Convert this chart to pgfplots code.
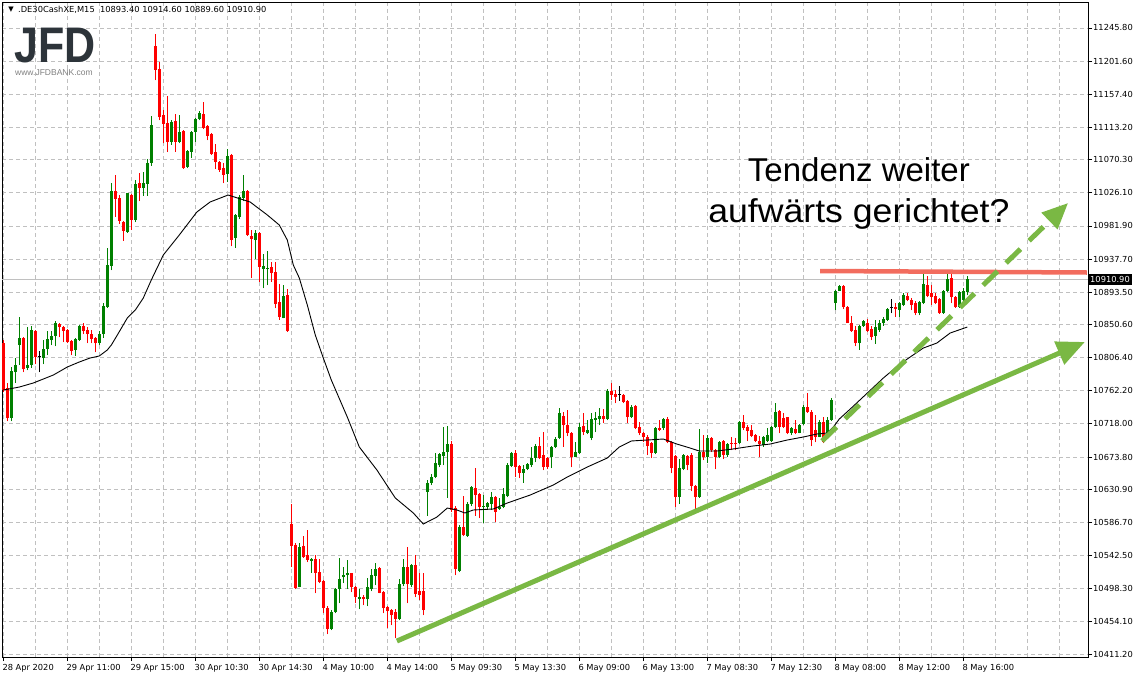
\documentclass[border=0pt]{standalone}
\usepackage{fontspec}
\setmainfont{Liberation Sans}
\newfontfamily\tah{DejaVu Sans}
\usepackage{graphicx}
\usepackage{pgfplots}
\pgfplotsset{compat=1.18}
\usepackage{pgfplotstable}
\usetikzlibrary{arrows.meta}
\definecolor{cgreen}{RGB}{0,128,0}
\definecolor{cred}{RGB}{255,0,0}
\definecolor{agreen}{RGB}{122,184,68}
\definecolor{ared}{RGB}{242,108,94}
\definecolor{gridc}{RGB}{192,192,192}
\definecolor{logoc}{RGB}{45,52,58}

\pgfplotstableread{
i O H L C
0 10825.8 10829.8 10760.4 10763.1
1 10765.8 10772.5 10721.8 10725.8
2 10725.8 10793.8 10721.8 10788.5
3 10787.1 10805.8 10772.5 10796.5
4 10823.1 10860.5 10796.5 10832.5
5 10832.5 10833.8 10787.1 10791.1
6 10792.5 10847.1 10789.8 10796.5
7 10796.5 10848.5 10792.5 10843.1
8 10841.8 10843.1 10797.8 10807.2
9 10807.2 10815.1 10787.1 10807.2
10 10805.8 10829.8 10797.8 10817.8
11 10817.8 10841.8 10809.8 10831.1
12 10829.8 10841.8 10823.1 10835.1
13 10835.1 10855.1 10821.8 10852.5
14 10851.1 10852.5 10833.8 10847.1
15 10847.1 10848.5 10827.1 10841.8
16 10843.1 10844.5 10825.8 10827.1
17 10828.5 10829.8 10809.8 10815.1
18 10816.5 10832.5 10808.5 10831.1
19 10829.8 10849.8 10828.5 10848.5
20 10848.5 10852.5 10837.8 10841.8
21 10843.1 10847.1 10825.8 10837.8
22 10837.8 10843.1 10825.8 10831.1
23 10832.5 10833.8 10813.8 10825.8
24 10825.8 10841.8 10823.1 10837.8
25 10837.8 10879.1 10832.5 10875.1
26 10873.8 10952.5 10872.5 10929.8
27 10928.5 11039.1 10923.1 11028.5
28 11028.5 11049.8 10993.8 11017.8
29 11019.1 11023.1 10984.5 10988.5
30 10987.1 10988.5 10961.8 10975.1
31 10973.8 11025.8 10972.5 11025.8
32 11023.1 11024.5 10976.5 10989.8
33 10989.8 11043.1 10987.1 11037.8
34 11039.1 11052.5 11015.1 11032.5
35 11032.5 11053.8 11021.8 11039.1
36 11037.8 11071.1 11021.8 11065.8
37 11065.8 11128.5 11061.8 11116.5
38 11221.8 11237.8 11176.4 11189.8
39 11191.1 11200.5 11123.1 11127.1
40 11129.8 11136.5 11092.4 11117.8
41 11119.1 11155.1 11080.5 11093.8
42 11093.8 11123.1 11089.8 11120.5
43 11121.8 11131.1 11080.5 11093.8
44 11093.8 11129.8 11092.4 11107.1
45 11108.5 11109.8 11057.8 11059.1
46 11060.5 11083.1 11059.1 11081.8
47 11080.5 11108.5 11072.4 11107.1
48 11107.1 11125.8 11093.8 11124.5
49 11124.5 11135.1 11123.1 11132.5
50 11131.1 11147.1 11111.1 11112.5
51 11115.1 11116.5 11096.4 11101.8
52 11104.5 11105.8 11076.5 11077.8
53 11080.5 11091.1 11057.8 11067.1
54 11067.1 11068.5 11053.8 11056.5
55 11059.1 11065.8 11039.1 11049.8
56 11051.1 11084.5 11040.5 11075.1
57 11076.5 11077.8 10955.1 10963.1
58 10965.8 10997.8 10952.5 10996.5
59 10993.8 11023.1 10991.1 11020.5
60 11019.1 11049.8 11015.1 11028.5
61 11028.5 11029.8 10968.5 10969.8
62 10968.5 10976.5 10912.5 10964.5
63 10963.1 10976.5 10937.8 10972.5
64 10972.5 10973.8 10907.2 10927.2
65 10924.5 10944.5 10899.1 10928.5
66 10924.5 10948.5 10903.1 10925.8
67 10927.2 10933.8 10907.2 10919.1
68 10920.5 10933.8 10872.4 10877.8
69 10880.5 10904.5 10856.5 10860.5
70 10859.1 10903.1 10859.1 10888.5
71 10889.8 10897.8 10840.5 10841.8
72 10584.5 10611.2 10527.2 10555.2
73 10556.5 10559.2 10497.8 10499.2
74 10500.5 10559.2 10500.5 10553.8
75 10555.2 10568.5 10539.2 10540.5
76 10543.2 10576.5 10533.8 10536.5
77 10535.2 10539.2 10519.2 10537.8
78 10537.8 10543.2 10492.5 10519.2
79 10520.5 10537.8 10505.8 10507.2
80 10508.5 10509.8 10465.8 10472.5
81 10472.5 10475.2 10437.8 10444.5
82 10444.5 10469.8 10443.2 10467.2
83 10467.2 10499.2 10465.8 10497.8
84 10497.8 10539.2 10479.2 10511.2
85 10513.8 10527.2 10505.8 10516.5
86 10516.5 10536.5 10497.8 10519.2
87 10519.2 10519.2 10493.8 10500.5
88 10500.5 10501.8 10479.2 10487.2
89 10484.5 10497.8 10471.2 10487.2
90 10487.2 10489.8 10476.5 10484.5
91 10484.5 10512.5 10475.2 10500.5
92 10497.8 10524.5 10495.2 10516.5
93 10515.2 10532.5 10503.2 10524.5
94 10525.8 10527.2 10492.5 10492.5
95 10493.8 10495.2 10465.8 10472.5
96 10473.8 10475.2 10445.8 10468.5
97 10469.8 10471.2 10449.8 10463.2
98 10467.2 10471.2 10432.5 10457.8
99 10457.8 10511.2 10456.5 10504.5
100 10504.5 10537.8 10501.8 10527.2
101 10527.2 10553.8 10479.2 10504.5
102 10503.2 10531.2 10500.5 10529.8
103 10529.8 10543.2 10487.2 10491.2
104 10495.2 10519.2 10483.2 10489.8
105 10495.2 10519.2 10463.2 10469.8
106 10627.2 10643.2 10595.2 10639.2
107 10639.2 10651.2 10636.5 10647.2
108 10647.2 10679.1 10645.8 10665.8
109 10663.1 10679.1 10660.5 10677.8
110 10675.2 10713.8 10663.1 10680.5
111 10680.5 10715.1 10619.2 10691.1
112 10691.1 10695.1 10600.5 10603.2
113 10605.8 10608.5 10516.5 10524.5
114 10521.8 10583.1 10520.5 10580.5
115 10580.5 10621.8 10568.5 10569.8
116 10568.5 10613.8 10567.2 10611.2
117 10611.2 10635.2 10608.5 10633.8
118 10632.5 10659.1 10595.2 10623.1
119 10624.5 10625.8 10592.5 10607.2
120 10607.2 10623.1 10585.8 10608.5
121 10607.2 10613.8 10603.2 10612.5
122 10611.2 10627.2 10603.2 10620.5
123 10620.5 10621.8 10587.2 10600.5
124 10604.5 10619.2 10603.2 10607.2
125 10607.2 10632.5 10605.8 10624.5
126 10621.8 10665.8 10620.5 10663.1
127 10661.8 10680.5 10660.5 10679.1
128 10679.1 10683.1 10647.2 10660.5
129 10661.8 10663.1 10645.8 10652.5
130 10652.5 10663.1 10639.2 10657.8
131 10657.8 10665.8 10656.5 10664.5
132 10663.1 10687.1 10660.5 10672.5
133 10672.5 10691.1 10667.1 10688.5
134 10688.5 10700.5 10671.1 10672.5
135 10676.5 10707.1 10656.5 10660.5
136 10672.5 10673.8 10657.8 10660.5
137 10673.8 10688.5 10659.1 10687.2
138 10687.2 10700.5 10685.8 10697.8
139 10699.1 10739.1 10697.8 10732.5
140 10728.5 10733.8 10687.2 10716.5
141 10716.5 10736.5 10701.8 10705.8
142 10705.8 10707.1 10660.5 10673.8
143 10673.8 10693.8 10673.8 10680.5
144 10679.1 10719.1 10677.8 10713.8
145 10715.1 10732.5 10703.1 10707.1
146 10705.8 10723.1 10704.5 10709.8
147 10699.1 10732.5 10696.5 10724.5
148 10723.1 10733.8 10707.1 10725.8
149 10724.5 10739.1 10716.5 10728.5
150 10728.5 10737.8 10719.1 10724.5
151 10724.5 10764.5 10723.1 10761.8
152 10761.8 10772.5 10749.8 10756.5
153 10757.8 10763.1 10745.8 10753.8
154 10756.5 10768.5 10748.5 10756.5
155 10756.5 10757.8 10745.8 10747.1
156 10748.5 10749.8 10719.1 10727.1
157 10727.1 10743.2 10725.8 10740.5
158 10741.8 10743.2 10711.1 10712.5
159 10713.8 10720.5 10703.1 10705.8
160 10705.8 10707.1 10693.8 10700.5
161 10700.5 10703.1 10676.5 10688.5
162 10692.4 10693.8 10672.5 10679.1
163 10679.1 10713.8 10677.8 10712.5
164 10712.5 10723.1 10708.5 10709.8
165 10712.5 10725.8 10709.8 10724.5
166 10724.5 10727.1 10692.4 10693.8
167 10693.8 10695.1 10652.5 10659.1
168 10675.1 10676.5 10607.2 10620.5
169 10620.5 10671.1 10611.8 10659.1
170 10657.8 10677.8 10656.5 10676.5
171 10675.1 10676.5 10656.5 10663.1
172 10676.5 10679.1 10628.5 10635.2
173 10635.2 10636.5 10604.5 10620.5
174 10620.5 10711.1 10619.2 10680.5
175 10680.5 10703.1 10669.8 10673.8
176 10673.8 10703.1 10665.8 10699.1
177 10699.1 10700.5 10680.5 10683.1
178 10683.1 10684.5 10657.8 10673.8
179 10673.8 10695.1 10672.5 10693.8
180 10695.1 10696.5 10671.1 10676.5
181 10676.5 10692.4 10673.8 10691.1
182 10692.4 10700.5 10683.1 10691.1
183 10692.4 10699.1 10683.1 10691.1
184 10692.4 10721.8 10691.1 10720.5
185 10720.5 10729.8 10709.8 10712.5
186 10713.8 10716.5 10695.1 10708.5
187 10709.8 10716.5 10700.5 10701.8
188 10703.1 10704.5 10693.8 10695.1
189 10695.1 10701.8 10673.8 10691.1
190 10689.8 10701.8 10687.2 10700.5
191 10695.1 10712.5 10693.8 10703.1
192 10695.1 10715.1 10693.8 10713.8
193 10713.8 10745.8 10712.5 10733.8
194 10735.1 10736.5 10705.8 10713.8
195 10725.8 10732.5 10712.5 10713.8
196 10727.1 10727.1 10704.5 10705.8
197 10705.8 10713.8 10703.1 10712.5
198 10711.1 10723.1 10704.5 10705.8
199 10705.8 10717.8 10705.8 10716.5
200 10717.8 10743.2 10716.5 10740.5
201 10740.5 10759.1 10732.5 10733.8
202 10733.8 10736.5 10688.5 10696.5
203 10709.8 10729.8 10693.8 10700.5
204 10700.5 10723.1 10700.5 10720.5
205 10720.5 10727.1 10692.4 10693.8
206 10705.8 10727.1 10704.5 10723.1
207 10723.1 10752.4 10721.8 10749.8
208 10879.1 10896.5 10869.8 10895.2
209 10895.2 10903.1 10895.2 10901.8
210 10901.8 10903.1 10871.1 10873.8
211 10873.8 10875.1 10852.5 10852.5
212 10852.5 10861.8 10840.5 10841.8
213 10843.1 10848.5 10821.8 10825.8
214 10825.8 10849.8 10816.5 10848.5
215 10848.5 10856.5 10847.2 10855.2
216 10852.5 10857.8 10840.5 10841.8
217 10844.5 10848.5 10829.8 10833.8
218 10835.2 10856.5 10824.5 10847.2
219 10843.1 10856.5 10840.5 10852.5
220 10852.5 10860.5 10848.5 10857.8
221 10856.5 10872.5 10855.2 10871.1
222 10872.5 10884.5 10865.8 10872.5
223 10873.8 10879.1 10860.5 10871.1
224 10869.8 10880.5 10860.5 10879.1
225 10876.5 10892.5 10875.1 10889.8
226 10888.5 10892.5 10881.8 10883.1
227 10883.1 10885.8 10869.8 10876.5
228 10879.1 10881.8 10863.1 10865.8
229 10865.8 10881.8 10863.1 10880.5
230 10879.1 10917.8 10877.8 10904.5
231 10903.1 10915.1 10887.1 10888.5
232 10892.5 10903.1 10876.5 10887.1
233 10888.5 10892.5 10877.8 10879.1
234 10884.5 10885.8 10864.5 10865.8
235 10865.8 10896.5 10864.5 10895.2
236 10895.2 10917.8 10893.8 10911.1
237 10912.5 10917.8 10879.1 10887.1
238 10887.1 10888.5 10872.5 10873.8
239 10873.8 10895.2 10872.5 10893.8
240 10883.1 10899.1 10875.1 10895.2
241 10893.4 10914.6 10889.6 10910.9
}\candles

\pgfplotsset{
  wick/.style 2 args={only marks, mark=*, mark size=0pt, mark options={draw=none, fill=none}, forget plot,
    restrict expr to domain={\thisrow{C}-\thisrow{O}}{#1},
    error bars/.cd, y dir=plus, y explicit, error mark=none,
    error bar style={draw=#2, line width=1pt, solid}},
  body/.style 2 args={only marks, mark=*, mark size=0pt, mark options={draw=none, fill=none}, forget plot,
    restrict expr to domain={\thisrow{C}-\thisrow{O}}{#1},
    error bars/.cd, y dir=plus, y explicit, error mark=none,
    error bar style={draw=#2, line width=3pt, solid}},
}

\begin{document}
\begin{tikzpicture}
\begin{axis}[
  scale only axis, width=1086pt, height=654pt,
  xmin=-0.325, xmax=271.175, ymin=10407.2, ymax=11279.1,
  axis line style={black, line width=1pt},
  clip=false,
  scaled y ticks=false, scaled x ticks=false,
  xtick={0,16,...,240},
  xticklabels={{28 Apr 2020},{29 Apr 11:00},{29 Apr 15:00},{30 Apr 10:30},{30 Apr 14:30},{4 May 10:00},{4 May 14:00},{5 May 09:30},{5 May 13:30},{6 May 09:00},{6 May 13:00},{7 May 08:30},{7 May 12:30},{8 May 08:00},{8 May 12:00},{8 May 16:00}},
  minor xtick={8,24,...,264,256},
  ytick={10411.2,10454.1,10498.3,10542.5,10586.7,10630.9,10673.8,10718.0,10762.2,10806.4,10850.6,10893.5,10937.7,10981.9,11026.1,11070.3,11113.2,11157.4,11201.6,11245.8},
  yticklabels={10411.20,10454.10,10498.30,10542.50,10586.70,10630.90,10673.80,10718.00,10762.20,10806.40,10850.60,10893.50,10937.70,10981.90,11026.10,11070.30,11113.20,11157.40,11201.60,11245.80},
  xtick pos=left, ytick pos=right, yticklabel pos=right,
  tick align=outside,
  major tick length=4pt, minor tick length=0pt,
  tick style={black, line width=0.8pt},
  grid=both,
  major grid style={gridc, dash pattern=on 4pt off 3pt, line width=0.8pt},
  minor grid style={gridc, dash pattern=on 4pt off 3pt, line width=0.8pt},
  xticklabel style={font=\tah\fontsize{8.3}{10}\selectfont, anchor=north west, inner sep=0pt, xshift=-1pt, yshift=-3pt},
  yticklabel style={font=\tah\fontsize{8.3}{10}\selectfont, anchor=west, inner sep=0pt, xshift=1pt},
]
% current price line
\addplot[gridc, line width=0.8pt, forget plot] coordinates {(-0.325,10910.9) (271.175,10910.9)};

% candles: wicks and bodies
\addplot[wick={0.05:10000}{cgreen}] table[x=i, y=L, y error plus expr=\thisrow{H}-\thisrow{L}] {\candles};
\addplot[wick={-10000:-0.05}{cred}] table[x=i, y=L, y error plus expr=\thisrow{H}-\thisrow{L}] {\candles};
\addplot[wick={-0.05:0.05}{black}] table[x=i, y=L, y error plus expr=\thisrow{H}-\thisrow{L}] {\candles};
\addplot[body={0.05:10000}{cgreen}] table[x=i, y=O, y error plus expr=\thisrow{C}-\thisrow{O}] {\candles};
\addplot[body={-10000:-0.05}{cred}] table[x=i, y=C, y error plus expr=\thisrow{O}-\thisrow{C}] {\candles};
\addplot[only marks, mark=-, mark size=1.5pt, mark options={black, line width=1pt, solid}, forget plot,
  restrict expr to domain={\thisrow{C}-\thisrow{O}}{-0.05:0.05}] table[x=i, y=O] {\candles};

% moving average
\addplot[black, line width=0.9pt, mark=none] coordinates {
(0,10763.1) (4,10767.1) (7.5,10772.5) (10,10777.8) (12.5,10783.1) (16,10793.8)
(19,10800.5) (21.7,10805.8) (24,10808.5) (26,10816.5) (27,10823.1) (28.5,10836.4)
(31,10859.1) (33,10869.8) (35,10885.8) (37,10909.8) (40,10943.1) (44,10969.8)
(48.4,11000.5) (51.7,11013.8) (56.2,11023.1) (61.7,11013.8) (66,10996.5) (69,10983.1)
(71,10963.1) (72.5,10929.8) (74,10912.5) (76,10876.5) (78,10836.4) (80,10805.8)
(82,10776.5) (86,10727.1) (89,10687.2) (93.4,10656.5) (98,10619.2) (102.5,10599.2)
(105,10584.5) (108.4,10593.8) (111,10605.8) (113.4,10603.2) (115.4,10599.2) (117.5,10603.2)
(122.5,10604.5) (126,10612.5) (131.7,10623.1) (137.5,10636.5) (141,10647.2) (144,10655.2)
(146,10660.5) (151,10672.5) (154,10687.2) (157,10695.2) (161,10696.5) (165,10697.8)
(168.4,10691.1) (171.7,10685.8) (174,10681.8) (178.4,10681.8) (182.4,10684.5) (187.4,10688.5)
(191.7,10691.1) (196,10696.5) (200,10700.5) (203.4,10704.5) (206,10705.8) (207.5,10713.8)
(209,10724.5) (212,10739.1) (216,10759.1) (220,10779.1) (223,10792.5) (226,10804.5)
(230,10819.1) (233.4,10825.8) (236.7,10839.1) (241,10847.1)
};

% annotations
\addplot[ared, line width=4.5pt, mark=none] coordinates {(204.2,10921.8) (270.9,10919.8)};
\addplot[agreen, line width=5pt, mark=none, -{Triangle[length=28pt,width=24pt]}] coordinates {(98.4,10428.5) (270.4,10827.2)};
\addplot[agreen, line width=5pt, mark=none, dash pattern=on 20pt off 12pt, -{Triangle[length=26pt,width=22pt]}] coordinates {(204.7,10695.2) (266.2,11012.5)};

\node[anchor=base, inner sep=0pt, font=\fontsize{33}{38}\selectfont] at (axis cs:213.9,11040.5) {Tendenz weiter};
\node[anchor=base, inner sep=0pt, font=\fontsize{33}{38}\selectfont] at (axis cs:213.9,10987.1) {\scalebox{1.08}[1]{aufwärts gerichtet?}};

% header and logo
\node[anchor=center, inner sep=0pt, font=\tah\fontsize{7}{8}\selectfont] at (axis cs:1.925,11269.8) {▼};
\node[anchor=west, inner sep=0pt, font=\tah\fontsize{8.3}{10}\selectfont] at (axis cs:3.675,11269.8) {.DE30CashXE,M15\ \ 10893.40 10914.60 10889.60 10910.90};
\node[anchor=base west, inner sep=0pt, text depth=0pt, font=\fontsize{50}{50}\selectfont\bfseries, text=logoc] at (axis cs:2.675,11200.4) {\scalebox{0.86}[1]{JFD}};
\node[anchor=base west, inner sep=0pt, font=\fontsize{8.5}{10}\selectfont, text=gray] at (axis cs:2.93,11182.4) {www.JFDBANK.com};

% price label
\node[fill=black, text=white, anchor=west, inner xsep=2pt, inner ysep=2.5pt, font=\tah\fontsize{8.3}{10}\selectfont] at (axis cs:271.175,10910.9) {10910.90};
\end{axis}
\pgfresetboundingbox
\path[use as bounding box] ([xshift=-2pt,yshift=-21pt]current axis.south west) rectangle ([xshift=51pt,yshift=3pt]current axis.north east);
\end{tikzpicture}
\end{document}
